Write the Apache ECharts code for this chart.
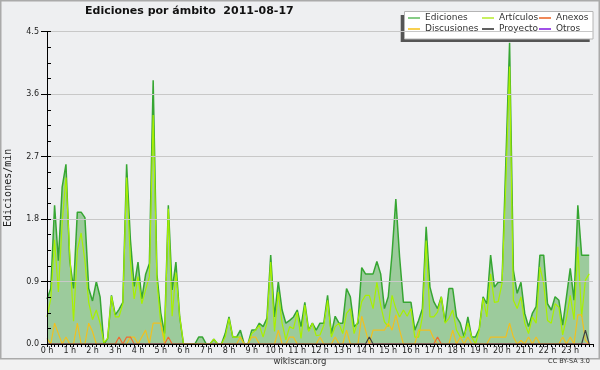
<!DOCTYPE html>
<html><head><meta charset="utf-8">
<script src="https://cdn.jsdelivr.net/npm/echarts@6/dist/echarts.min.js"></script>
<style>html,body{margin:0;padding:0;background:#eeeff1}#c{width:600px;height:370px}</style>
</head><body><div id="c"></div>
<script>
const hourLabels = ['0 h','1 h','2 h','3 h','4 h','5 h','6 h','7 h','8 h','9 h','10 h','11 h','12 h','13 h','14 h','15 h','16 h','17 h','18 h','19 h','20 h','21 h','22 h','23 h'];
const yTickLabels = ['0.0','0.9','1.8','2.7','3.6','4.5'];
const seriesNames = ['Ediciones','Artículos','Anexos','Discusiones','Proyecto','Otros'];

const ediciones = [
0.65,0.80,2.00,1.20,2.26,2.59, 1.20,0.80,1.90,1.90,1.82,0.80, 0.62,0.90,0.68,0.00,0.08,0.70,
0.42,0.50,0.60,2.59,1.50,0.83, 1.18,0.65,1.00,1.16,3.80,1.00, 0.45,0.15,2.00,0.78,1.18,0.39,
0,0,0,0,0.10,0.10, 0,0,0.07,0,0,0.15, 0.39,0.10,0.10,0.20,0,0,
0.20,0.20,0.30,0.25,0.37,1.28, 0.39,0.90,0.49,0.30,0.34,0.39, 0.49,0.25,0.60,0.20,0.30,0.20,
0.30,0.30,0.70,0.15,0.40,0.30, 0.30,0.80,0.68,0.25,0.30,1.10, 1.01,1.01,1.01,1.19,1.01,0.51,
0.68,1.30,2.09,1.25,0.60,0.60, 0.60,0.20,0.34,0.51,1.69,0.82, 0.61,0.51,0.68,0.32,0.80,0.80,
0.39,0.30,0.10,0.39,0.10,0.10, 0.22,0.68,0.58,1.28,0.82,0.89, 0.89,2.60,4.34,1.06,0.73,0.89,
0.44,0.25,0.44,0.54,1.28,1.28, 0.58,0.49,0.68,0.63,0.27,0.68, 1.09,0.63,2.00,1.28,1.28,1.28];

const articulos = [
0.39,0.65,1.50,0.75,1.75,2.40, 1.30,0.33,1.35,1.60,1.20,0.60, 0.35,0.49,0.30,0.02,0.08,0.69,
0.39,0.39,0.58,2.40,1.20,0.65, 0.97,0.58,0.78,0.97,3.30,0.90, 0.30,0.05,1.95,0.40,1.03,0.39,
0,0,0,0,0,0, 0,0,0.07,0,0,0.10, 0.37,0.10,0.10,0.10,0,0,
0.15,0.20,0.27,0.10,0.30,1.18, 0.18,0.75,0.30,0.06,0.25,0.22, 0.46,0.08,0.56,0.18,0.30,0.12,
0.13,0.27,0.63,0.10,0.25,0.30, 0.15,0.44,0.51,0.15,0.34,0.61, 0.70,0.70,0.51,0.89,0.56,0.32,
0.25,0.70,0.51,0.39,0.49,0.40, 0.51,0.10,0.10,0.39,1.49,0.39, 0.39,0.46,0.68,0.30,0.37,0.49,
0.20,0.10,0.10,0.30,0.10,0, 0.20,0.66,0.39,1.01,0.60,0.61, 0.87,2.30,4.00,0.63,0.51,0.68,
0.30,0.15,0.39,0.30,1.11,0.87, 0.34,0.30,0.58,0.53,0.13,0.37, 0.70,0.35,1.40,0.39,0.92,1.01];

const anexos = [
0,0,0,0,0,0, 0,0,0,0,0,0, 0,0,0,0,0,0,
0,0.10,0,0.10,0.10,0, 0,0,0,0,0,0, 0,0,0.10,0,0,0,
0,0,0,0,0,0, 0,0,0,0,0,0, 0,0,0,0,0,0,
0,0,0,0,0,0, 0,0,0,0,0,0, 0,0,0,0,0,0,
0,0,0,0,0,0, 0,0,0,0,0,0, 0,0,0,0,0,0,
0,0,0,0,0,0, 0,0,0,0,0,0, 0,0.10,0,0,0,0,
0,0,0,0,0,0, 0,0,0,0,0,0, 0,0,0,0,0,0,
0,0,0,0,0,0, 0,0,0,0,0,0, 0,0,0,0,0,0];

const discusiones = [
0.08,0,0.30,0.15,0,0.10, 0,0,0.30,0,0,0.30, 0.18,0,0,0,0,0,
0,0,0,0,0.10,0.10, 0,0.10,0.20,0,0.30,0.30, 0.30,0,0,0,0,0,
0,0,0,0,0,0, 0,0,0,0,0,0, 0,0,0,0.10,0,0,
0.10,0.10,0,0,0,0, 0,0.20,0,0,0.10,0.10, 0,0,0,0,0,0,
0.10,0,0,0,0.10,0, 0,0.20,0,0,0,0.40, 0.20,0,0.20,0.20,0.20,0.20,
0.30,0.20,0.42,0.20,0,0, 0,0,0.20,0.20,0.20,0.20, 0.08,0,0,0,0,0.20,
0,0.10,0,0.10,0,0, 0,0,0,0.10,0.10,0.10, 0.10,0.10,0.30,0.10,0,0.05,
0,0.10,0,0.10,0,0, 0,0,0,0,0.10,0, 0.10,0,0.42,0.42,0.05,0];

const proyecto = [
0,0,0,0,0,0, 0,0,0,0,0,0, 0,0,0,0,0,0,
0,0,0,0,0,0, 0,0,0,0,0,0, 0,0,0,0,0,0,
0,0,0,0,0,0, 0,0,0,0,0,0, 0,0,0,0,0,0,
0,0,0,0,0,0, 0,0,0,0,0,0, 0,0,0,0,0,0,
0,0,0,0,0,0, 0,0,0,0,0,0, 0,0.10,0,0,0,0,
0,0,0,0,0,0, 0,0,0,0,0,0, 0,0,0,0,0,0,
0,0,0,0,0,0, 0,0,0,0,0,0, 0,0,0,0,0,0,
0,0,0,0,0,0, 0,0,0,0,0,0, 0,0,0,0,0.20,0];

const otros = new Array(144).fill(0);

const pts = arr => arr.map((v, i) => [i, v]);
const F = 'DejaVu Sans';

const chart = echarts.init(document.getElementById('c'), null, {renderer: 'canvas'});
const lineS = (name, data, color, width, z) => ({
  name, type: 'line', data: pts(data), symbol: 'none', z,
  lineStyle: {color, width}, itemStyle: {color}, animation: false
});
const legendBase = {
  orient: 'vertical', top: 13, padding: 0, itemGap: 1, icon: 'rect',
  itemWidth: 12, itemHeight: 2,
  textStyle: {fontFamily: F, fontSize: 9, color: '#333', lineHeight: 10}
};
const legendItem = (name, color) => ({name, itemStyle: {color}});

chart.setOption({
  backgroundColor: '#eeeff1',
  animation: false,
  title: {
    text: 'Ediciones por ámbito  2011-08-17', left: 85, top: 6, padding: 0,
    textStyle: {fontFamily: F, fontSize: 11, fontWeight: 'bold', color: '#111'}
  },
  legend: [
    Object.assign({left: 408, data: [legendItem('Ediciones', '#86cc86'), legendItem('Discusiones', '#f8d050')]}, legendBase),
    Object.assign({left: 482, data: [legendItem('Artículos', '#c8f060'), legendItem('Proyecto', '#606060')]}, legendBase),
    Object.assign({left: 539, data: [legendItem('Anexos', '#f08858'), legendItem('Otros', '#a050e8')]}, legendBase)
  ],
  grid: {left: 47, right: 7, top: 31.7, bottom: 26, containLabel: false, outerBoundsMode: 'none'},
  xAxis: {
    type: 'value', min: 0, max: 144, interval: 6, z: 10,
    axisLine: {lineStyle: {color: '#000', width: 1}},
    axisTick: {length: 3, lineStyle: {color: '#000'}},
    minorTick: {show: true, splitNumber: 6, length: 3, lineStyle: {color: '#000'}},
    splitLine: {show: false},
    axisLabel: {
      showMaxLabel: false, fontFamily: F, fontSize: 8, color: '#222', margin: 3,
      formatter: v => hourLabels[v / 6] || ''
    }
  },
  yAxis: [{
    type: 'value', min: 0, max: 4.5, interval: 0.9, z: 10,
    name: 'Ediciones/min', nameLocation: 'middle', nameGap: 34, nameRotate: 90,
    nameTextStyle: {fontFamily: 'DejaVu Sans Mono', fontSize: 10, color: '#222'},
    axisLine: {show: true, lineStyle: {color: '#000'}},
    axisTick: {show: true, length: 6, lineStyle: {color: '#000'}},
    splitLine: {show: true, lineStyle: {color: '#c8c8c8', width: 1}},
    axisLabel: {fontFamily: F, fontSize: 8, color: '#222', margin: 8,
      formatter: v => yTickLabels[Math.round(v / 0.9)]}
  }, {
    type: 'value', min: 0, max: 4.5, interval: 0.225, position: 'left', offset: 0, z: 10,
    axisLine: {show: false}, splitLine: {show: false}, axisLabel: {show: false},
    axisTick: {show: true, inside: true, length: 4, lineStyle: {color: '#000'}}
  }],
  series: [
    Object.assign(lineS(seriesNames[0], ediciones, '#36a632', 1.5, 2),
      {areaStyle: {color: '#9ccb9c', opacity: 1}}),
    lineS(seriesNames[5], otros, '#9040e0', 1, 2),
    lineS(seriesNames[1], articulos, '#a8f000', 1.2, 3),
    lineS(seriesNames[3], discusiones, '#f0c020', 1.2, 3),
    lineS(seriesNames[2], anexos, '#f06a30', 1.2, 3),
    lineS(seriesNames[4], proyecto, '#404040', 1.2, 3)
  ],
  graphic: [
    {type: 'rect', z: 0, silent: true, shape: {x: 0, y: 359, width: 600, height: 11}, style: {fill: '#f2f2f2'}},
    {type: 'rect', z: 0, silent: true, shape: {x: 0.75, y: 0.75, width: 598.5, height: 358}, style: {fill: 'none', stroke: '#aaaaaa', lineWidth: 1.5}},
    {type: 'rect', z: 3, silent: true, shape: {x: 400.7, y: 15, width: 189, height: 27}, style: {fill: '#555555'}},
    {type: 'rect', z: 3, silent: true, shape: {x: 404.5, y: 11.5, width: 188.5, height: 27.5}, style: {fill: '#ffffff', stroke: '#b4b4b4', lineWidth: 1}},
    {type: 'text', z: 5, left: 'center', top: 357, style: {text: 'wikiscan.org', font: '8.5px "DejaVu Sans"', fill: '#333'}},
    {type: 'text', z: 5, right: 10, top: 358, style: {text: 'CC BY-SA 3.0', font: '6.5px "DejaVu Sans"', fill: '#333'}}
  ]
});
</script></body></html>
